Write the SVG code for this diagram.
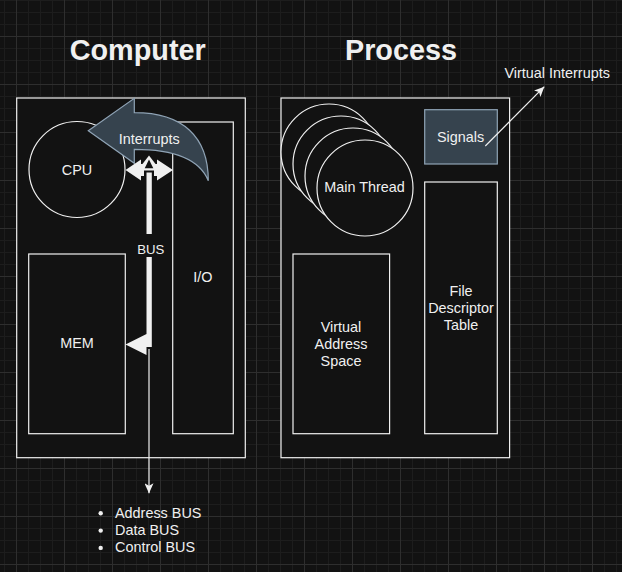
<svg xmlns="http://www.w3.org/2000/svg" width="622" height="572" viewBox="0 0 622 572">
<style>
.t{font-family:"Liberation Sans",Arial,sans-serif;font-size:14.4px;fill:#f0f0f0;text-anchor:middle}
.title{font-family:"Liberation Sans",Arial,sans-serif;font-size:28.8px;font-weight:bold;fill:#f0f0f0;text-anchor:middle}
.box{fill:#121212;stroke:#f0f0f0;stroke-width:1.2}
.sig{fill:#36434e;stroke:#8fa3b5;stroke-width:1.2}
.bus{fill:#f0f0f0;stroke:none}
.dark{fill:#121212;stroke:none}
.line{fill:none;stroke:#f0f0f0;stroke-width:1.2}
</style>
<defs>
<pattern id="grid" x="16" y="36" width="48" height="48" patternUnits="userSpaceOnUse">
<rect x="0" y="0" width="48" height="48" fill="#121212"/>
<g fill="#1d1d1d">
<rect x="12" y="0" width="1" height="48"/><rect x="24" y="0" width="1" height="48"/><rect x="36" y="0" width="1" height="48"/>
<rect x="0" y="12" width="48" height="1"/><rect x="0" y="24" width="48" height="1"/><rect x="0" y="36" width="48" height="1"/>
</g>
<g fill="#2e2e2e">
<rect x="0" y="0" width="1" height="48"/><rect x="0" y="0" width="48" height="1"/>
</g>
</pattern>
<marker id="arr" viewBox="0 0 10 9" refX="10" refY="4.5" markerWidth="10" markerHeight="9" markerUnits="userSpaceOnUse" orient="auto">
<path d="M0,0 L10,4.5 L0,9 L2.5,4.5 Z" fill="#f0f0f0"/>
</marker>
</defs>
<rect x="0" y="0" width="622" height="572" fill="url(#grid)"/>

<text class="title" x="137.7" y="59.5">Computer</text>
<text class="title" x="401" y="59.5">Process</text>

<g id="computer"><rect class="box" x="16.7" y="98" width="228.6" height="359.7"/></g>
<g id="cpu"><circle class="box" cx="77" cy="169.5" r="48"/><text class="t" x="77" y="174.5">CPU</text></g>
<g id="mem"><rect class="box" x="28.7" y="254" width="96.6" height="179.7"/><text class="t" x="77" y="348.3">MEM</text></g>
<g id="io"><rect class="box" x="172.7" y="122" width="60.6" height="311.7"/><text class="t" x="202.9" y="282.3">I/O</text></g>

<g id="interrupts">
<path class="sig" d="M88.3,130.7 L134.3,98.3 L134.3,112.7 C183,112.7 208.3,137 208.3,180.7 C200,160 175,149.3 134.3,149.3 L134.3,163.3 Z"/>
<text class="t" x="149.2" y="144">Interrupts</text>
</g>

<g id="process"><rect class="box" x="281" y="98" width="228.6" height="359.7"/></g>
<g id="threads">
<circle class="box" cx="329" cy="152" r="48"/>
<circle class="box" cx="341" cy="164" r="48"/>
<circle class="box" cx="353" cy="176" r="48"/>
<circle class="box" cx="365" cy="188" r="48"/>
<text class="t" x="364.5" y="191.8">Main Thread</text>
</g>
<g id="signals"><rect class="sig" x="424.7" y="109.7" width="72.6" height="54.3"/><text class="t" x="460.5" y="141.7">Signals</text></g>
<g id="vas"><rect class="box" x="293" y="254" width="96.6" height="179.7"/>
<text class="t" x="341" y="331.8">Virtual</text><text class="t" x="341" y="349.1">Address</text><text class="t" x="341" y="366.4">Space</text></g>
<g id="fdt"><rect class="box" x="424.7" y="182" width="72.6" height="251.7"/>
<text class="t" x="461" y="295.8">File</text><text class="t" x="461" y="313.1">Descriptor</text><text class="t" x="461" y="330.4">Table</text></g>

<g id="virtual-interrupts"><text class="t" x="557.2" y="78.3">Virtual Interrupts</text></g>

<g id="connectors">
<polygon class="bus" points="125.5,170 141,159.5 141,164 157,164 157,159.5 173,170 157,180.5 157,176 141,176 141,180.5"/>
<polygon class="bus" points="149,155.5 159,168.5 139,168.5"/>
<polygon class="dark" points="149,159.5 153.3,168.3 144.7,168.3"/>
<rect class="dark" x="144" y="170.5" width="10" height="6"/>
<polygon class="bus" points="146.5,172.5 151.8,172.5 151.8,347 146.5,347 146.5,355 125.5,344.5 146.5,334 146.5,342"/>
<rect class="dark" x="137" y="234" width="26" height="23"/>
<text class="t" style="font-size:13.2px" x="150.7" y="254.3">BUS</text>
<line class="line" x1="149" y1="349" x2="149" y2="493.3" marker-end="url(#arr)"/>
<line class="line" x1="485.3" y1="146" x2="544.3" y2="86.7" marker-end="url(#arr)"/>
</g>

<g id="bus-list">
<circle cx="100.7" cy="513.3" r="2.2" fill="#f0f0f0"/>
<circle cx="100.7" cy="530.6" r="2.2" fill="#f0f0f0"/>
<circle cx="100.7" cy="547.9" r="2.2" fill="#f0f0f0"/>
<text class="t" style="text-anchor:start" x="115" y="517.7">Address BUS</text>
<text class="t" style="text-anchor:start" x="115" y="535">Data BUS</text>
<text class="t" style="text-anchor:start" x="115" y="552.3">Control BUS</text>
</g>
</svg>
